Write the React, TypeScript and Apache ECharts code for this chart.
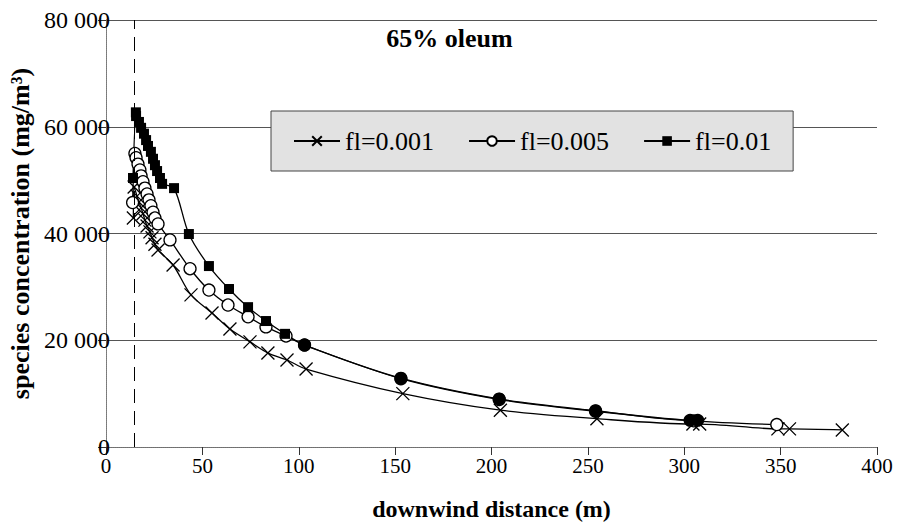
import React, { useEffect, useRef } from "react";
import * as echarts from "echarts";

const xTicks = [0, 50, 100, 150, 200, 250, 300, 350, 400];
const yTicks = [0, 20000, 40000, 60000, 80000];
const legendNames = ["fl=0.001", "fl=0.005", "fl=0.01"];
const dashedX = 14.5;

const fl001: [number, number][] = [
  [14.2, 42900], [14.6, 48700], [16.1, 47000], [17.1, 45900], [18.2, 44800],
  [19.2, 43700], [20.2, 42500], [21.3, 41400], [22.8, 40300], [23.9, 39200],
  [25.4, 38000], [27.0, 36900], [34.8, 34100], [44.1, 28500], [55, 25100],
  [64.3, 22100], [74.7, 19700], [84, 17600], [93.9, 16300], [103.8, 14600],
  [154, 10000], [204.6, 6900], [254.7, 5300], [304.5, 4300], [308, 4300],
  [348.6, 3400], [354.6, 3400], [382, 3200],
];

const fl005: [number, number][] = [
  [13.8, 45800], [15.0, 55000], [15.6, 54200], [16.6, 53000], [17.6, 51900],
  [18.2, 50800], [19.2, 49700], [20.2, 48500], [21.3, 47400], [22.3, 46300],
  [23.3, 45200], [24.4, 44000], [25.4, 42900], [27.0, 41800], [33.2, 38800],
  [43.6, 33400], [53.4, 29400], [63.3, 26600], [73.7, 24400], [83, 22500],
  [93.4, 20800], [103, 19100], [153, 12800], [204, 8900], [254, 6700],
  [305, 4900], [348, 4200],
];

const fl01: [number, number][] = [
  [14.0, 50400], [15.5, 62700], [15.6, 62000], [17.1, 60900], [18.2, 59800],
  [19.7, 58700], [20.8, 57500], [21.8, 56400], [23.3, 55300], [24.4, 54000],
  [25.4, 52800], [26.5, 51700], [28.0, 50400], [29.1, 49300], [35.3, 48500],
  [43, 39900], [53.4, 33900], [63.8, 29600], [73.7, 26200], [83, 23600],
  [92.9, 21200], [103, 19100], [153, 12900], [204, 9000], [254, 6800],
  [303, 5000], [307, 5000],
];
// points of fl=0.01 drawn with round markers in the reference
const fl01RoundFrom = 103;

const FONT = "'Liberation Serif', 'Times New Roman', serif";
const X_PATH = "path://M0,0L10,10M10,0L0,10";

export default function App() {
  const ref = useRef<HTMLDivElement>(null);
  useEffect(() => {
    if (!ref.current) return;
    const chart = echarts.init(ref.current, undefined, { renderer: "svg" });
    const lineBase = {
      type: "line",
      smooth: 0.3,
      lineStyle: { color: "#000", width: 1.3 },
      z: 3,
    };
    chart.setOption({
      animation: false,
      backgroundColor: "#fff",
      title: {
        text: "65% oleum",
        left: "center",
        top: 20,
        textStyle: { fontFamily: FONT, fontSize: 26, fontWeight: "bold", color: "#000" },
      },
      legend: {
        data: legendNames,
        left: 271,
        top: 111,
        padding: [17, 22, 17, 22],
        itemGap: 34,
        itemWidth: 46,
        itemHeight: 12,
        backgroundColor: "#e2e2e2",
        borderColor: "#444",
        borderWidth: 1,
        textStyle: { fontFamily: FONT, fontSize: 26, color: "#000" },
        z: 10,
      },
      grid: {
        left: 106,
        right: 22,
        top: 20,
        bottom: 75,
        show: false,
        containLabel: false,
        outerBoundsMode: "none",
      },
      xAxis: [
        {
          type: "value",
          min: xTicks[0],
          max: xTicks[xTicks.length - 1],
          interval: 50,
          name: "downwind distance (m)",
          nameLocation: "middle",
          nameGap: 50,
          nameTextStyle: { fontFamily: FONT, fontSize: 24, fontWeight: "bold", color: "#000" },
          axisLine: { lineStyle: { color: "#666", type: [1, 1], width: 1 } },
          axisTick: { show: true, length: 8, lineStyle: { color: "#333" } },
          axisLabel: { fontFamily: FONT, fontSize: 21, color: "#000", margin: 8 },
          splitLine: { show: false },
        },
        {
          type: "value",
          position: "top",
          min: xTicks[0],
          max: xTicks[xTicks.length - 1],
          axisLine: { show: true, lineStyle: { color: "#777", type: [1, 1], width: 1 } },
          axisTick: { show: false },
          axisLabel: { show: false },
          splitLine: { show: false },
        },
      ],
      yAxis: [
        {
          type: "value",
          min: yTicks[0],
          max: yTicks[yTicks.length - 1],
          interval: 20000,
          name: "species concentration (mg/m³)",
          nameLocation: "middle",
          nameGap: 70,
          nameTextStyle: { fontFamily: FONT, fontSize: 26, fontWeight: "bold", color: "#000" },
          axisLine: { show: true, lineStyle: { color: "#666", type: [1, 1], width: 1 } },
          axisTick: { show: true, length: 8, lineStyle: { color: "#333" } },
          axisLabel: {
            fontFamily: FONT,
            fontSize: 24,
            color: "#000",
            margin: -4,
            formatter: (v: number) => (v === 0 ? "0" : `${v / 1000} 000`),
          },
          splitLine: {
            show: true,
            lineStyle: { color: "#555", width: 1 },
          },
        },
        {
          type: "value",
          position: "right",
          min: yTicks[0],
          max: yTicks[yTicks.length - 1],
          axisLine: { show: true, lineStyle: { color: "#777", type: [1, 1], width: 1 } },
          axisTick: { show: false },
          axisLabel: { show: false },
          splitLine: { show: false },
        },
      ],
      series: [
        {
          ...lineBase,
          name: legendNames[0],
          data: fl001,
          symbol: X_PATH,
          symbolSize: 13,
          itemStyle: { color: "rgba(0,0,0,0)", borderColor: "#000", borderWidth: 1.3 },
          markLine: {
            silent: true,
            symbol: ["none", "none"],
            label: { show: false },
            lineStyle: { color: "#000", type: [14, 8], width: 1 },
            data: [{ xAxis: dashedX }],
          },
        },
        {
          ...lineBase,
          name: legendNames[1],
          data: fl005,
          symbol: "circle",
          symbolSize: 12,
          itemStyle: { color: "#fff", borderColor: "#000", borderWidth: 1.3 },
        },
        {
          ...lineBase,
          name: legendNames[2],
          data: fl01.map((p) =>
            p[0] >= fl01RoundFrom ? { value: p, symbol: "circle", symbolSize: 13 } : { value: p }
          ),
          symbol: "rect",
          symbolSize: 10,
          itemStyle: { color: "#000", borderColor: "#000", borderWidth: 0 },
        },
      ],
    });
    return () => chart.dispose();
  }, []);
  return (
    <div
      ref={ref}
      style={{ position: "fixed", left: 0, top: 0, width: 899, height: 522, background: "#fff" }}
    />
  );
}
